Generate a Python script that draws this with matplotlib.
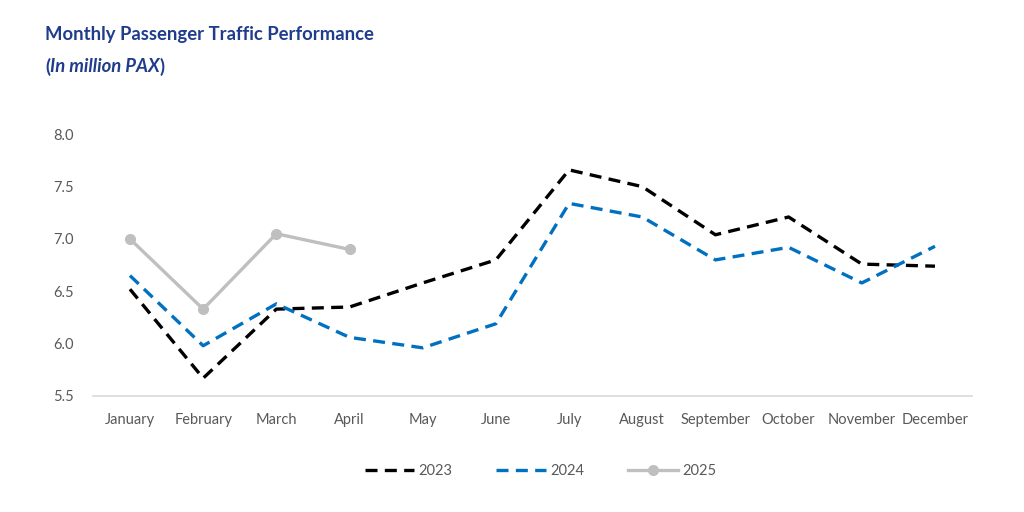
import matplotlib

matplotlib.use("Agg")
import matplotlib.pyplot as plt

MONTHS = ["January", "February", "March", "April", "May", "June", "July",
          "August", "September", "October", "November", "December"]
PAX_2023 = [6.52, 5.67, 6.33, 6.35, 6.58, 6.80, 7.66, 7.50, 7.04, 7.21, 6.76, 6.74]
PAX_2024 = [6.65, 5.98, 6.38, 6.06, 5.96, 6.19, 7.34, 7.21, 6.80, 6.92, 6.58, 6.93]
PAX_2025 = [7.00, 6.33, 7.05, 6.90]
Y_TICKS = [5.5, 6.0, 6.5, 7.0, 7.5, 8.0]

TITLE_BLUE = "#1f3d8c"
TICK_GRAY = "#595959"

plt.rcParams["font.family"] = ["Lato", "DejaVu Sans"]

fig = plt.figure(figsize=(10.24, 5.12), dpi=100)
ax = fig.add_axes([0.0912, 0.2266, 0.8576, 0.5111])

xs = list(range(len(MONTHS)))
ax.plot(xs, PAX_2023, color="black", lw=2.4, dashes=(3.6, 2.2), label="2023")
ax.plot(xs, PAX_2024, color="#0070c0", lw=2.4, dashes=(3.6, 2.2), label="2024")
ax.plot(xs[:len(PAX_2025)], PAX_2025, color="#bfbfbf", lw=2.4, marker="o", ms=7,
        label="2025")

ax.set_xlim(-0.5, len(MONTHS) - 0.5)
ax.set_ylim(5.5, 8.0)
ax.set_yticks(Y_TICKS)
ax.set_yticklabels([f"{v:.1f}" for v in Y_TICKS])
ax.set_xticks(xs)
ax.set_xticklabels(MONTHS)
ax.tick_params(axis="both", length=0, labelsize=10.5, colors=TICK_GRAY)
ax.tick_params(axis="y", pad=14)
ax.tick_params(axis="x", pad=12)
for side in ("top", "right", "left"):
    ax.spines[side].set_visible(False)
ax.spines["bottom"].set_color("#d9d9d9")
ax.spines["bottom"].set_linewidth(1.2)

leg = ax.legend(loc="upper center", bbox_to_anchor=(0.509, -0.21), ncol=3, frameon=False,
                fontsize=10.5, handlelength=3.4, columnspacing=3.0, handletextpad=0.3)
for t in leg.get_texts():
    t.set_color(TICK_GRAY)

fig.text(0.044, 0.932, "Monthly Passenger Traffic Performance", color=TITLE_BLUE,
         fontsize=13.3, fontweight="bold", va="center")
t1 = fig.text(0.044, 0.870, "(", color=TITLE_BLUE, fontsize=13.3, fontweight="bold", va="center")
t2 = fig.text(0, 0, "In million PAX", color=TITLE_BLUE, fontsize=13.3, fontweight="bold",
              style="italic", va="center")
t3 = fig.text(0, 0, ")", color=TITLE_BLUE, fontsize=13.3, fontweight="bold", va="center")
fig.canvas.draw()
r = fig.canvas.get_renderer()
b1 = t1.get_window_extent(r)
t2.set_position((b1.x1 / fig.bbox.width, 0.870))
fig.canvas.draw()
b2 = t2.get_window_extent(r)
t3.set_position((b2.x1 / fig.bbox.width, 0.870))

fig.savefig("out.png", dpi=100)
